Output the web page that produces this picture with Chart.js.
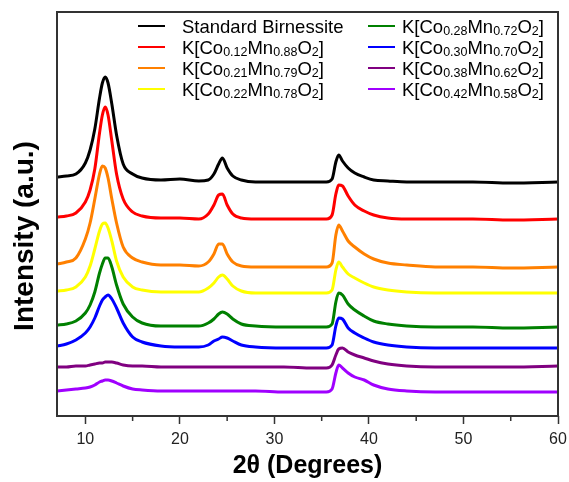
<!DOCTYPE html>
<html lang="en">
<head>
<meta charset="UTF-8">
<title>XRD patterns</title>
<script src="https://cdn.jsdelivr.net/npm/chart.js"></script>
<style>
  body { margin: 0; background: #fff; }
</style>
</head>
<body>
<canvas id="xrd" width="569" height="482"></canvas>
<script>
// 2-theta positions (degrees), denser around the peaks
const twoTheta = [7, 8, 9, 10, 10.5, 11, 11.5, 11.8, 12.1, 12.4, 12.8, 13.3, 14, 15, 16, 18, 20,
  22, 23, 23.6, 24.1, 24.5, 25, 25.6, 26.5, 28, 31, 34, 35.5,
  36.1, 36.5, 36.8, 37.2, 37.8, 38.5, 39.5, 40.5, 42, 44, 47, 51, 55, 60];

// intensities (a.u., already offset for stacking)
const birnessite = [239, 240, 242, 253, 266, 287, 318, 333, 339, 333, 312, 281, 252, 242, 238, 236, 237,
  235, 236, 242, 252, 258, 248, 240, 236, 234, 234, 234, 234,
  237, 254, 261, 255, 248, 243, 239, 236, 235, 234, 234, 234, 233, 234];
const co012 = [199, 200, 203, 214, 226, 247, 283, 301, 309, 301, 275, 242, 217, 204, 200, 198, 198,
  197, 202, 211, 221, 222, 211, 202, 198, 197, 197, 197, 197,
  201, 222, 231, 230, 220, 211, 205, 201, 198, 197, 197, 197, 196, 197];
const co021 = [152, 154, 158, 177, 193, 217, 242, 250, 248, 238, 217, 193, 169, 158, 154, 151, 151,
  150, 154, 162, 172, 172, 162, 154, 150, 149, 149, 149, 149,
  153, 181, 191, 185, 175, 169, 162, 157, 153, 151, 149, 149, 148, 149];
const co022 = [125, 126, 129, 139, 150, 167, 185, 192, 193, 188, 175, 155, 139, 129, 126, 124, 124,
  124, 128, 133, 139, 141, 137, 130, 125, 123, 123, 123, 123,
  126, 146, 154, 149, 142, 138, 133, 129, 126, 124, 123, 123, 123, 123];
const co028 = [91, 92, 95, 103, 111, 124, 143, 152, 158, 158, 149, 131, 112, 99, 93, 90, 90,
  90, 93, 97, 102, 104, 102, 97, 92, 90, 89, 89, 89,
  92, 114, 123, 121, 112, 106, 100, 95, 92, 90, 89, 89, 88, 89];
const co030 = [70, 72, 76, 83, 89, 98, 110, 116, 119, 121, 117, 108, 93, 79, 74, 70, 69,
  69, 71, 75, 77, 79, 78, 75, 71, 69, 68, 68, 68,
  71, 90, 98, 97, 88, 83, 78, 74, 71, 69, 68, 68, 68, 68];
const co038 = [49, 49, 50, 50, 51, 52, 53, 53, 54, 54, 54, 53, 51, 50, 50, 49, 49,
  49, 49, 49, 49, 49, 49, 49, 49, 49, 49, 48, 48,
  51, 61, 67, 68, 64, 61, 58, 55, 52, 50, 49, 49, 49, 50];
const co042 = [25, 26, 27, 28, 29, 31, 34, 35, 36, 36, 35, 33, 30, 27, 26, 25, 25,
  25, 25, 25, 25, 25, 25, 25, 25, 25, 24, 24, 24,
  27, 43, 51, 48, 43, 39, 36, 31, 27, 25, 24, 24, 24, 24];

const seriesNames = ['Standard Birnessite', 'K[Co0.12Mn0.88O2]', 'K[Co0.21Mn0.79O2]', 'K[Co0.22Mn0.78O2]',
  'K[Co0.28Mn0.72O2]', 'K[Co0.30Mn0.70O2]', 'K[Co0.38Mn0.62O2]', 'K[Co0.42Mn0.58O2]'];
const seriesValues = [birnessite, co012, co021, co022, co028, co030, co038, co042];
const seriesColors = ['#000000', '#ff0000', '#ff8000', '#ffff00', '#008000', '#0000ff', '#800080', '#a000ff'];

const xTicks = [10, 20, 30, 40, 50, 60];
const xMinorTicks = [15, 25, 35, 45, 55];
const yTitle = 'Intensity (a.u.)';

const FONT = '"Liberation Sans", Arial, sans-serif';

// box round the plot, short minor ticks, and the y title (sits a bit below centre in the original)
const framePlugin = {
  id: 'frame',
  afterDraw(chart) {
    const { ctx, chartArea: a, scales: { x } } = chart;
    ctx.save();
    ctx.strokeStyle = '#333';
    ctx.lineWidth = 1.5;
    ctx.beginPath();
    xMinorTicks.forEach(v => {
      const px = x.getPixelForValue(v);
      ctx.moveTo(px, a.bottom);
      ctx.lineTo(px, a.bottom + 5);
    });
    ctx.stroke();
    ctx.lineWidth = 2;
    ctx.strokeRect(a.left, a.top, a.right - a.left, a.bottom - a.top);

    ctx.translate(25, a.top + 224);
    ctx.rotate(-Math.PI / 2);
    ctx.fillStyle = '#000';
    ctx.font = 'bold 28px ' + FONT;
    ctx.textAlign = 'center';
    ctx.textBaseline = 'middle';
    ctx.fillText(yTitle, 0, 0);
    ctx.restore();
  }
};

// two-column legend with subscripts for the stoichiometry numbers
const subLegendPlugin = {
  id: 'subLegend',
  afterDraw(chart) {
    const { ctx, chartArea: a } = chart;
    ctx.save();
    ctx.textBaseline = 'alphabetic';
    chart.data.datasets.forEach((ds, i) => {
      const col = Math.floor(i / 4);
      const row = i % 4;
      const lx = a.left + (col ? 311 : 81);
      const y = a.top + 14 + row * 21;
      ctx.strokeStyle = ds.borderColor;
      ctx.lineWidth = 2;
      ctx.beginPath();
      ctx.moveTo(lx, y);
      ctx.lineTo(lx + 27, y);
      ctx.stroke();

      ctx.fillStyle = '#000';
      let tx = lx + (col ? 34 : 44);
      ds.label.split(/(\d[\d.]*)/).forEach((part, k) => {
        if (!part) return;
        const sub = k % 2 === 1;
        ctx.font = (sub ? '12.5px ' : '18.5px ') + FONT;
        ctx.fillText(part, tx, y + 7 + (sub ? 2 : 0));
        tx += ctx.measureText(part).width;
      });
    });
    ctx.restore();
  }
};

new Chart(document.getElementById('xrd'), {
  type: 'line',
  data: {
    datasets: seriesNames.map((name, i) => ({
      label: name,
      data: twoTheta.map((t, j) => ({ x: t, y: seriesValues[i][j] })),
      borderColor: seriesColors[i],
      borderWidth: 3,
      pointRadius: 0,
      fill: false,
      cubicInterpolationMode: 'monotone'
    }))
  },
  options: {
    responsive: false,
    animation: false,
    layout: { padding: { top: 12, right: 11, left: 0, bottom: 0 } },
    plugins: {
      legend: { display: false },
      tooltip: { enabled: false }
    },
    scales: {
      x: {
        type: 'linear',
        min: 7,
        max: 60,
        afterFit: s => { s.height = 66; s.paddingLeft = 0; s.paddingRight = 0; },
        afterBuildTicks: s => { s.ticks = xTicks.map(v => ({ value: v })); },
        border: { display: false },
        grid: { drawOnChartArea: false, drawTicks: true, tickLength: 8, tickWidth: 1.5, tickColor: '#333' },
        ticks: { padding: 6, color: '#222', font: { family: FONT, size: 16 } },
        title: {
          display: true,
          text: '2θ (Degrees)',
          color: '#000',
          font: { family: FONT, size: 25, weight: 'bold' },
          padding: { bottom: 1 }
        }
      },
      y: {
        type: 'linear',
        min: 0,
        max: 404,
        afterFit: s => { s.width = 57; },
        border: { display: false },
        grid: { display: false },
        ticks: { display: false }
      }
    }
  },
  plugins: [framePlugin, subLegendPlugin]
});
</script>
</body>
</html>
